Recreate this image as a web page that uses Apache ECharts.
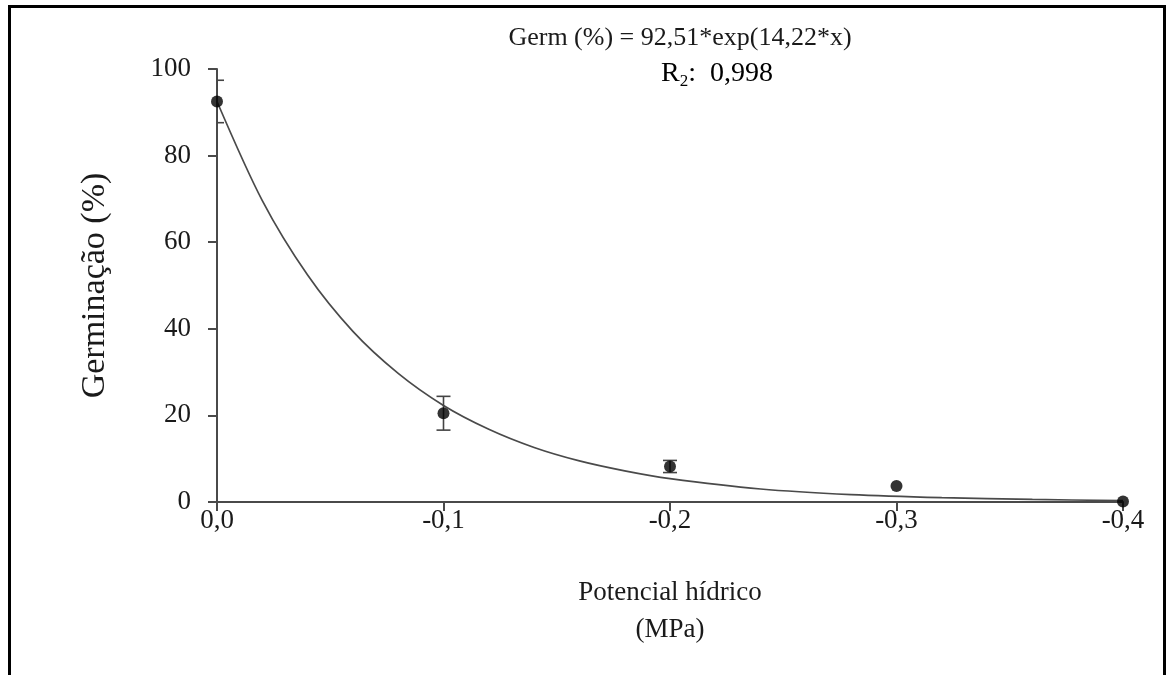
<!DOCTYPE html>
<html>
<head>
<meta charset="utf-8">
<script src="https://cdn.jsdelivr.net/npm/echarts@6/dist/echarts.min.js"></script>
<style>
html,body{margin:0;padding:0;background:#fff;}
#chart{width:1166px;height:675px;}
</style>
</head>
<body>
<div id="chart"></div>
<script>
// Observed means (potencial hídrico, MPa)
const potentials = [0, -0.1, -0.2, -0.3, -0.4];
const germMeans = [92.5, 20.5, 8.2, 3.7, 0.1];
const germErrors = [4.9, 3.9, 1.4, 0, 0];

// Fitted curve
const curveX = [0, -0.02, -0.04, -0.06, -0.08, -0.10, -0.12, -0.14, -0.16, -0.18, -0.20, -0.24, -0.28, -0.32, -0.36, -0.40];
const curveY = [92.5, 69.6, 52.4, 39.4, 29.7, 22.3, 16.8, 12.6, 9.5, 7.2, 5.4, 3.0, 1.7, 1.0, 0.6, 0.3];

const yTicks = [0, 20, 40, 60, 80, 100];
const equationText = 'Germ (%) = 92,51*exp(14,22*x)';
const r2Label = '0,998';
const xAxisTitle = 'Potencial hídrico\n(MPa)';
const yAxisTitle = 'Germinação (%)';

const FONT = 'Liberation Serif';
const ink = '#1a1a1a';
const axisCol = '#4a4a4a';

const chart = echarts.init(document.getElementById('chart'), null, {renderer: 'canvas'});

const curveData = curveX.map((x, i) => [x, curveY[i]]);
const pointData = potentials.map((x, i) => [x, germMeans[i]]);
const errData = potentials.map((x, i) => [x, germMeans[i] - germErrors[i], germMeans[i] + germErrors[i]]);

const option = {
  animation: false,
  backgroundColor: '#fff',
  grid: {left: 217, right: 43, top: 69, bottom: 173, containLabel: false},
  xAxis: {
    type: 'value',
    inverse: true,
    min: -0.4,
    max: 0,
    interval: 0.1,
    name: xAxisTitle,
    nameLocation: 'middle',
    nameGap: 72,
    nameTextStyle: {fontFamily: FONT, fontSize: 27, color: ink, lineHeight: 37},
    axisLine: {show: true, onZero: false, lineStyle: {color: axisCol, width: 2}},
    axisTick: {show: true, inside: false, length: 9, lineStyle: {color: axisCol, width: 2}},
    axisLabel: {
      fontFamily: FONT, fontSize: 27, color: ink, margin: 5,
      formatter: v => Math.abs(v) < 1e-9 ? '0,0' : v.toFixed(1).replace('.', ',')
    },
    splitLine: {show: false}
  },
  yAxis: {
    type: 'value',
    min: 0,
    max: 100,
    interval: 20,
    name: yAxisTitle,
    nameLocation: 'middle',
    nameGap: 105,
    nameRotate: 90,
    nameTextStyle: {fontFamily: FONT, fontSize: 34, color: ink},
    axisLine: {show: true, lineStyle: {color: axisCol, width: 2}},
    axisTick: {show: true, inside: false, length: 9, lineStyle: {color: axisCol, width: 2}},
    axisLabel: {
      fontFamily: FONT, fontSize: 27, color: ink, margin: 26,
      formatter: v => yTicks.includes(v) ? String(v) : ''
    },
    splitLine: {show: false}
  },
  graphic: [
    {
      type: 'rect',
      silent: true,
      z: 100,
      shape: {x: 9.5, y: 6.5, width: 1155, height: 720},
      style: {fill: 'none', stroke: '#000', lineWidth: 3}
    },
    {
      type: 'text',
      x: 680,
      y: 38,
      style: {text: equationText, fontFamily: FONT, fontSize: 26, fill: ink, align: 'center', verticalAlign: 'middle'}
    },
    {
      type: 'text',
      x: 717,
      y: 74,
      style: {
        text: '{r|R}{s|2}{r|:  ' + r2Label + '}',
        align: 'center',
        verticalAlign: 'middle',
        rich: {
          r: {fontFamily: FONT, fontSize: 28, color: ink, verticalAlign: 'middle'},
          s: {fontFamily: FONT, fontSize: 17, color: ink, padding: [15, 0, 0, 0]}
        }
      }
    }
  ],
  series: [
    {
      type: 'line',
      data: curveData,
      smooth: 0.3,
      showSymbol: false,
      clip: false,
      lineStyle: {color: '#4a4a4a', width: 1.7},
      z: 2
    },
    {
      type: 'custom',
      clip: true,
      z: 3,
      data: errData,
      renderItem: function (params, api) {
        const x = api.value(0);
        const lo = api.coord([x, api.value(1)]);
        const hi = api.coord([x, api.value(2)]);
        if (Math.abs(hi[1] - lo[1]) < 1) return null;
        const hw = 7;
        const st = {stroke: '#444', lineWidth: 1.6, fill: 'none'};
        return {
          type: 'group',
          children: [
            {type: 'line', shape: {x1: lo[0], y1: lo[1], x2: hi[0], y2: hi[1]}, style: st},
            {type: 'line', shape: {x1: lo[0] - hw, y1: lo[1], x2: lo[0] + hw, y2: lo[1]}, style: st},
            {type: 'line', shape: {x1: hi[0] - hw, y1: hi[1], x2: hi[0] + hw, y2: hi[1]}, style: st}
          ]
        };
      }
    },
    {
      type: 'scatter',
      data: pointData,
      symbol: 'circle',
      symbolSize: 12,
      clip: false,
      itemStyle: {color: '#000'},
      z: 4
    }
  ]
};
chart.setOption(option);
</script>
</body>
</html>
